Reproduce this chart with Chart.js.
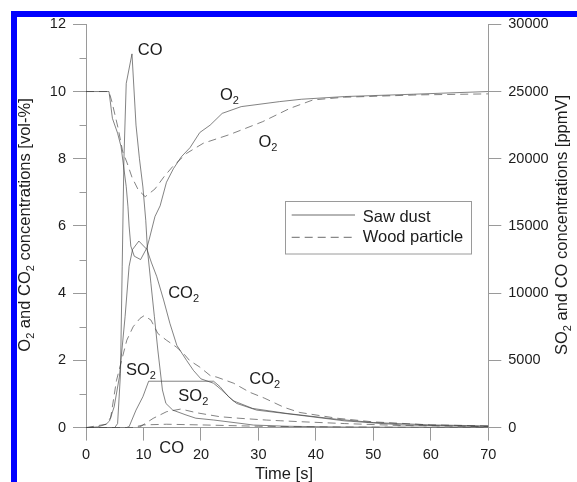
<!DOCTYPE html>
<html>
<head>
<meta charset="utf-8">
<script src="https://cdn.jsdelivr.net/npm/chart.js@4"></script>
<style>
  html, body { margin: 0; padding: 0; background: #fff; }
  #wrap  { position: relative; width: 577px; height: 482px; overflow: hidden; background: #fff; }
  #frame { position: absolute; left: 11px; top: 11px; right: 0; bottom: 0;
           border-top: 6px solid #0000ff; border-left: 6px solid #0000ff; }
  #chart { position: absolute; left: 0; top: 0; }
</style>
</head>
<body>
<div id="wrap">
  <div id="frame"></div>
  <canvas id="chart" width="577" height="482"></canvas>
</div>
<script>
// ── Data (time in s; O2/CO2 in vol-%; SO2/CO in ppmV) ─────────

const tO2Saw  = [0, 4, 4.6, 5.5, 6.1, 6.4, 7.0, 7.3, 7.5, 7.8, 8.4, 9.5, 10.6, 11.0, 12.0, 12.9, 14.0, 15.2, 16.6, 18.1, 19.8, 21.6, 23.7, 27.0, 33.7, 37.5, 45, 57, 70];
const o2Saw   = [10, 10, 9.2, 8.76, 8.36, 7.96, 7.17, 6.57, 6.0, 5.4, 5.1, 5.0, 5.35, 5.6, 6.28, 6.6, 7.3, 7.7, 8.06, 8.33, 8.78, 9.0, 9.35, 9.55, 9.7, 9.77, 9.85, 9.92, 10.0];

const tO2Wood = [0, 4, 4.5, 5.6, 6.4, 7.1, 8.0, 9.1, 10.3, 12.0, 13.6, 15.1, 17.5, 20.4, 25.0, 30.7, 35.5, 39.5, 45, 58, 70];
const o2Wood  = [10, 10, 9.7, 8.9, 8.2, 7.9, 7.45, 7.07, 6.87, 7.1, 7.47, 7.77, 8.16, 8.46, 8.72, 9.1, 9.5, 9.75, 9.83, 9.9, 9.93];

const tCo2Saw = [0, 2, 3.5, 4.1, 4.9, 5.8, 6.8, 7.5, 8.1, 9.2, 10.6, 11.4, 12.3, 13.5, 14.6, 15.8, 17.5, 18.7, 20.0, 22.2, 23.6, 25.6, 29.0, 35.0, 43.6, 50, 60, 70];
const co2Saw  = [0, 0.02, 0.1, 0.2, 0.62, 1.5, 3.3, 4.8, 5.3, 5.55, 5.3, 4.9, 4.5, 3.8, 3.1, 2.45, 2.0, 1.7, 1.45, 1.32, 1.12, 0.8, 0.57, 0.42, 0.25, 0.15, 0.08, 0.05];

const tCo2Wood = [0, 3.5, 4.3, 5.3, 6.2, 7.1, 8.2, 9.4, 10.1, 11.3, 12.5, 14.0, 15.7, 17.0, 18.0, 19.8, 21.6, 22.8, 25.7, 28.5, 31.0, 34.5, 37.2, 43.6, 50, 60, 70];
const co2Wood  = [0, 0.1, 0.3, 1.4, 2.0, 2.6, 3.0, 3.25, 3.33, 3.2, 2.8, 2.6, 2.4, 2.2, 2.0, 1.8, 1.55, 1.5, 1.32, 1.05, 0.88, 0.6, 0.45, 0.28, 0.17, 0.08, 0.05];

const tSo2Saw = [0, 7, 7.5, 8.7, 9.9, 10.9, 22.2, 23.3, 24.8, 26.2, 29.7, 37, 45, 55, 70];
const so2Saw  = [0, 0, 70, 1300, 2300, 3450, 3450, 3050, 2300, 1800, 1300, 930, 500, 200, 60];

const tSo2Wood = [0, 8, 9.4, 11.7, 14, 16.5, 19.3, 23.3, 26.8, 31.4, 33.8, 37.2, 45, 55, 70];
const so2Wood  = [0, 0, 50, 690, 1180, 1380, 1100, 810, 690, 560, 510, 440, 300, 150, 80];

const tCoSaw = [0, 5, 5.5, 6.0, 6.3, 6.6, 7.0, 8.0, 8.7, 9.3, 9.9, 10.4, 10.7, 11.3, 11.9, 12.5, 13.3, 13.9, 15.1, 17.4, 19.1, 22.2, 26.8, 29.1, 35, 45, 70];
const coSaw  = [0, 0, 300, 4000, 12000, 20000, 25600, 27800, 22500, 20000, 17900, 15400, 13200, 10700, 8250, 5770, 2800, 1800, 1300, 940, 700, 565, 320, 190, 100, 40, 0];

const tCoWood = [0, 8, 10, 14, 20, 30, 40, 70];
const coWood  = [0, 0, 200, 250, 200, 100, 50, 0];

const xTicks      = [0, 10, 20, 30, 40, 50, 60, 70];
const leftLabels  = [0, 2, 4, 6, 8, 10, 12];
const rightLabels = [0, 5000, 10000, 15000, 20000, 25000, 30000];

const legendItems = ['Saw dust', 'Wood particle'];

// curve labels: [text, subscript] parts, anchored in (time, vol-%) coordinates
const curveLabels = [
  { parts: [['CO', 0]],            t: 9.0,   v: 11.09 },
  { parts: [['O', 0], ['2', 1]],   t: 23.3,  v: 9.75 },
  { parts: [['O', 0], ['2', 1]],   t: 30.0,  v: 8.36 },
  { parts: [['CO', 0], ['2', 1]],  t: 14.3,  v: 3.85 },
  { parts: [['SO', 0], ['2', 1]],  t: 6.96,  v: 1.56 },
  { parts: [['SO', 0], ['2', 1]],  t: 16.06, v: 0.78 },
  { parts: [['CO', 0], ['2', 1]],  t: 28.4,  v: 1.31 },
  { parts: [['CO', 0]],            t: 12.75, v: -0.77 },
];

// ── Style ─────────────────────────────────────────────────────

const FONT    = '"Liberation Sans", Arial, Helvetica, sans-serif';
const AXIS    = '#9a9a9a';
const INK     = '#1c1c1c';
const LINE    = 'rgba(60,60,60,0.85)';
const DASH    = [8, 5];
const BIG     = 16.5;
const SUB     = 11;

const pts = (ts, vs) => ts.map((t, i) => ({ x: t, y: vs[i] }));

function series(ts, vs, axis, dashed) {
  return {
    data: pts(ts, vs),
    yAxisID: axis,
    borderColor: LINE,
    borderWidth: 0.75,
    borderDash: dashed ? DASH : [],
    pointRadius: 0,
    tension: 0,
    fill: false,
  };
}

// rich text with subscripts, baseline at y
function richWidth(ctx, parts) {
  let w = 0;
  for (const [s, sub] of parts) {
    ctx.font = `${sub ? SUB : BIG}px ${FONT}`;
    w += ctx.measureText(s).width;
  }
  return w;
}

function drawRich(ctx, parts, x, y) {
  ctx.textBaseline = 'alphabetic';
  ctx.textAlign = 'left';
  for (const [s, sub] of parts) {
    ctx.font = `${sub ? SUB : BIG}px ${FONT}`;
    ctx.fillText(s, x, y + (sub ? 4 : 0));
    x += ctx.measureText(s).width;
  }
}

const decor = {
  id: 'decor',
  afterDraw(chart) {
    const { ctx, chartArea: a, scales } = chart;
    const sx = scales.x, sy = scales.y;
    ctx.save();

    // minor ticks on left axis
    ctx.strokeStyle = AXIS;
    ctx.lineWidth = 1;
    for (let v = 1; v < 12; v += 2) {
      const y = Math.round(sy.getPixelForValue(v)) + 0.5;
      ctx.beginPath();
      ctx.moveTo(a.left - 6.5, y);
      ctx.lineTo(a.left, y);
      ctx.stroke();
    }

    ctx.fillStyle = INK;

    // curve labels
    for (const l of curveLabels) {
      drawRich(ctx, l.parts, sx.getPixelForValue(l.t), sy.getPixelForValue(l.v));
    }

    // axis titles
    const left  = [['O', 0], ['2', 1], [' and CO', 0], ['2', 1], [' concentrations [vol-%]', 0]];
    const right = [['SO', 0], ['2', 1], [' and CO concentrations [ppmV]', 0]];
    const midY = (a.top + a.bottom) / 2 - 1;

    ctx.save();
    ctx.translate(30, midY);
    ctx.rotate(-Math.PI / 2);
    drawRich(ctx, left, -richWidth(ctx, left) / 2, 0);
    ctx.restore();

    ctx.save();
    ctx.translate(567, midY);
    ctx.rotate(-Math.PI / 2);
    drawRich(ctx, right, -richWidth(ctx, right) / 2, 0);
    ctx.restore();

    const tt = [['Time [s]', 0]];
    drawRich(ctx, tt, 284 - richWidth(ctx, tt) / 2, 478.5);

    // legend box
    ctx.strokeStyle = AXIS;
    ctx.lineWidth = 1;
    ctx.strokeRect(285.5, 201.5, 186, 52.5);
    ctx.strokeStyle = LINE;
    ctx.lineWidth = 0.9;
    const rows      = [215, 237.3];
    const baselines = [221.7, 241.8];
    legendItems.forEach((label, i) => {
      ctx.setLineDash(i ? DASH : []);
      ctx.beginPath();
      ctx.moveTo(291.7, rows[i]);
      ctx.lineTo(355, rows[i]);
      ctx.stroke();
      ctx.setLineDash([]);
      drawRich(ctx, [[label, 0]], 362.7, baselines[i]);
    });

    ctx.restore();
  },
};

const tickFont = { family: FONT, size: 14.5 };

new Chart(document.getElementById('chart'), {
  type: 'line',
  data: {
    datasets: [
      series(tO2Saw,   o2Saw,   'y',  false),
      series(tO2Wood,  o2Wood,  'y',  true),
      series(tCo2Saw,  co2Saw,  'y',  false),
      series(tCo2Wood, co2Wood, 'y',  true),
      series(tSo2Saw,  so2Saw,  'y1', false),
      series(tSo2Wood, so2Wood, 'y1', true),
      series(tCoSaw,   coSaw,   'y1', false),
      series(tCoWood,  coWood,  'y1', true),
    ],
  },
  options: {
    responsive: false,
    animation: false,
    layout: { padding: { top: 24.3, left: 0, right: 0, bottom: 0 } },
    plugins: { legend: { display: false }, tooltip: { enabled: false } },
    scales: {
      x: {
        type: 'linear', min: 0, max: 70,
        afterBuildTicks: s => { s.ticks = xTicks.map(v => ({ value: v })); },
        ticks: { font: tickFont, color: INK, padding: 6, maxRotation: 0, callback: v => String(v) },
        grid: { drawOnChartArea: false, tickLength: 13, color: AXIS },
        border: { color: AXIS },
        afterFit: s => { s.height = 54.4; },
      },
      y: {
        position: 'left', min: 0, max: 12,
        afterBuildTicks: s => { s.ticks = leftLabels.map(v => ({ value: v })); },
        ticks: { font: tickFont, color: INK, padding: 7, callback: v => String(v) },
        grid: { drawOnChartArea: false, tickLength: 13, color: AXIS },
        border: { color: AXIS },
        afterFit: s => { s.width = 86; },
      },
      y1: {
        position: 'right', min: 0, max: 30000,
        afterBuildTicks: s => { s.ticks = rightLabels.map(v => ({ value: v })); },
        ticks: { font: tickFont, color: INK, padding: 7, callback: v => String(v) },
        grid: { drawOnChartArea: false, tickLength: 13, color: AXIS },
        border: { color: AXIS },
        afterFit: s => { s.width = 88.7; },
      },
    },
  },
  plugins: [decor],
});
</script>
</body>
</html>
